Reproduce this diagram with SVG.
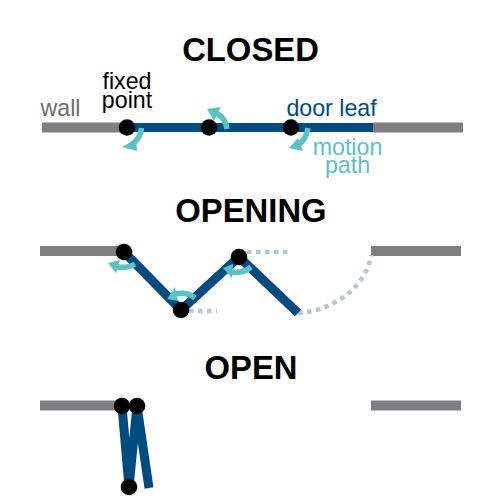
<svg xmlns="http://www.w3.org/2000/svg" width="500" height="500" viewBox="0 0 500 500">
<style>
text{font-family:"Liberation Sans",Arial,sans-serif;text-anchor:middle}
.title{font-size:32.8px;font-weight:700;fill:#000}
.lab{font-size:23.2px}
.wall{stroke:#7f7f83;stroke-width:10;fill:none}
.leaf{stroke:#004b7f;stroke-width:9;fill:none}
.ghost{stroke:#b5c4d9;stroke-width:4.5;stroke-dasharray:4.5 4.5;fill:none}
.arc{stroke:#5bc2c3;stroke-width:5.5;fill:none}
.head{fill:#5bc2c3}
.dot{fill:#000}
</style>
<g id="titles">
<text class="title" x="250.500" y="61">CLOSED</text>
<text class="title" x="251" y="221.500">OPENING</text>
<text class="title" x="251" y="379">OPEN</text>
</g>
<g id="labels">
<text class="lab" x="60.500" y="115.500" fill="#6d6e71">wall</text>
<text class="lab" fill="#000"><tspan x="127" y="89">fixed</tspan><tspan x="127" y="108">point</tspan></text>
<text class="lab" x="331.500" y="115.500" fill="#004b7f">door leaf</text>
<text class="lab" fill="#5bc2c3"><tspan x="347.500" y="154.500">motion</tspan><tspan x="347.500" y="173">path</tspan></text>
</g>
<g id="walls">
<path class="wall" d="M42 127.500H127M373 127.500H463"/>
<path class="wall" d="M40 251H124M371 251H461"/>
<path class="wall" d="M40 405.500H122M371 405.500H461"/>
</g>
<g id="ghost-paths">
<path class="ghost" d="M189 311H217"/>
<path class="ghost" d="M247 252H291"/>
<path class="ghost" d="M298 313C335 311 367 285 371 255"/>
</g>
<g id="door-closed">
<path class="leaf" d="M127 127.500H373"/>
</g>
<g id="door-opening">
<path class="leaf" d="M124 252L181 310L239 257L298 313"/>
</g>
<g id="door-open">
<path class="leaf" d="M122 406L129 487L137 406L149 488"/>
</g>
<g id="connectors">
<path class="arc" d="M141.500 128C141 135 137 141 131 145"/><polygon class="head" points="122,147 136,139 137,151"/>
<path class="arc" d="M227 129C226 122 222 116 216 113"/><polygon class="head" points="207,109 221,107 214,121"/>
<path class="arc" d="M308 128C307 135 304 141 298 145"/><polygon class="head" points="289,148 298,138 303,151"/>
<path class="arc" d="M135 264C130 267 124 268 117 267"/><polygon class="head" points="108,263 120,260 116,273"/>
<path class="arc" d="M195 298C190 294 184 292 175 294"/><polygon class="head" points="167,299 175,287 178,301"/>
<path class="arc" d="M251 267C246 271 239 273 232 272"/><polygon class="head" points="223,268 233,264 232,278"/>
</g>
<g id="dots">
<circle class="dot" cx="127" cy="127.500" r="8.300"/>
<circle class="dot" cx="209" cy="127.500" r="8.300"/>
<circle class="dot" cx="291" cy="127.500" r="8.300"/>
<circle class="dot" cx="124" cy="252" r="8.300"/>
<circle class="dot" cx="181" cy="310" r="8.300"/>
<circle class="dot" cx="239" cy="257" r="8.300"/>
<circle class="dot" cx="122" cy="406" r="8.300"/>
<circle class="dot" cx="137" cy="406" r="8.300"/>
<circle class="dot" cx="129" cy="487" r="8.300"/>
</g>
</svg>
